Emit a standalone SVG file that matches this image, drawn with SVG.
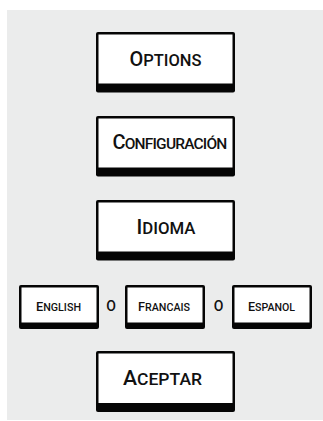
<svg xmlns="http://www.w3.org/2000/svg" width="323" height="421" viewBox="0 0 323 421">
<style>
.sh{fill:#050505}
.face{fill:#ffffff}
.t{font-family:Roboto,"Open Sans","DejaVu Sans",sans-serif;font-weight:500;fill:#111;text-anchor:middle}
.big{font-size:20px}
.sm{font-size:12.5px}
</style>
<rect x="7" y="10" width="316" height="410" fill="#ebecec"/>
<g id="connectors"/>
<g id="options">
<rect class="sh" x="96" y="32" width="139" height="60.5" rx="2"/>
<rect class="face" x="98.5" y="34.5" width="134" height="49"/>
<text class="t big" x="165.5" y="65.7" textLength="72" lengthAdjust="spacingAndGlyphs">O<tspan font-size="16.5">PTIONS</tspan></text>
</g>
<g id="configuracion">
<rect class="sh" x="96" y="116" width="139" height="60.5" rx="2"/>
<rect class="face" x="98.5" y="118.5" width="134" height="49"/>
<text class="t big" x="169.5" y="149.3" letter-spacing="-0.8">C<tspan font-size="15.5">ONFIGURACIÓN</tspan></text>
</g>
<g id="idioma">
<rect class="sh" x="96" y="200" width="139" height="60.5" rx="2"/>
<rect class="face" x="98.5" y="202.5" width="134" height="49"/>
<text class="t big" x="166" y="234" textLength="59" lengthAdjust="spacingAndGlyphs">I<tspan font-size="16.5">DIOMA</tspan></text>
</g>
<g id="english">
<rect class="sh" x="19" y="285" width="80" height="44" rx="2"/>
<rect class="face" x="21.5" y="287.5" width="75" height="35"/>
<text class="t sm" x="58.5" y="310.7" textLength="45" lengthAdjust="spacingAndGlyphs">E<tspan font-size="10.5">NGLISH</tspan></text>
</g>
<text class="t" x="111" y="310.5" font-size="14">O</text>
<g id="francais">
<rect class="sh" x="125" y="285" width="80" height="44" rx="2"/>
<rect class="face" x="127.5" y="287.5" width="75" height="35"/>
<text class="t sm" x="164" y="310.7" textLength="52" lengthAdjust="spacingAndGlyphs">F<tspan font-size="10.5">RANCAIS</tspan></text>
</g>
<text class="t" x="218.5" y="310.5" font-size="14">O</text>
<g id="espanol">
<rect class="sh" x="232" y="285" width="80" height="44" rx="2"/>
<rect class="face" x="234.5" y="287.5" width="75" height="35"/>
<text class="t sm" x="271.5" y="310.7" textLength="47" lengthAdjust="spacingAndGlyphs">E<tspan font-size="10.5">SPANOL</tspan></text>
</g>
<g id="aceptar">
<rect class="sh" x="96" y="351" width="139" height="61" rx="2"/>
<rect class="face" x="98.5" y="353.5" width="134" height="49.5"/>
<text class="t big" x="162.5" y="384.5" textLength="79" lengthAdjust="spacingAndGlyphs">A<tspan font-size="16.5">CEPTAR</tspan></text>
</g>
</svg>
